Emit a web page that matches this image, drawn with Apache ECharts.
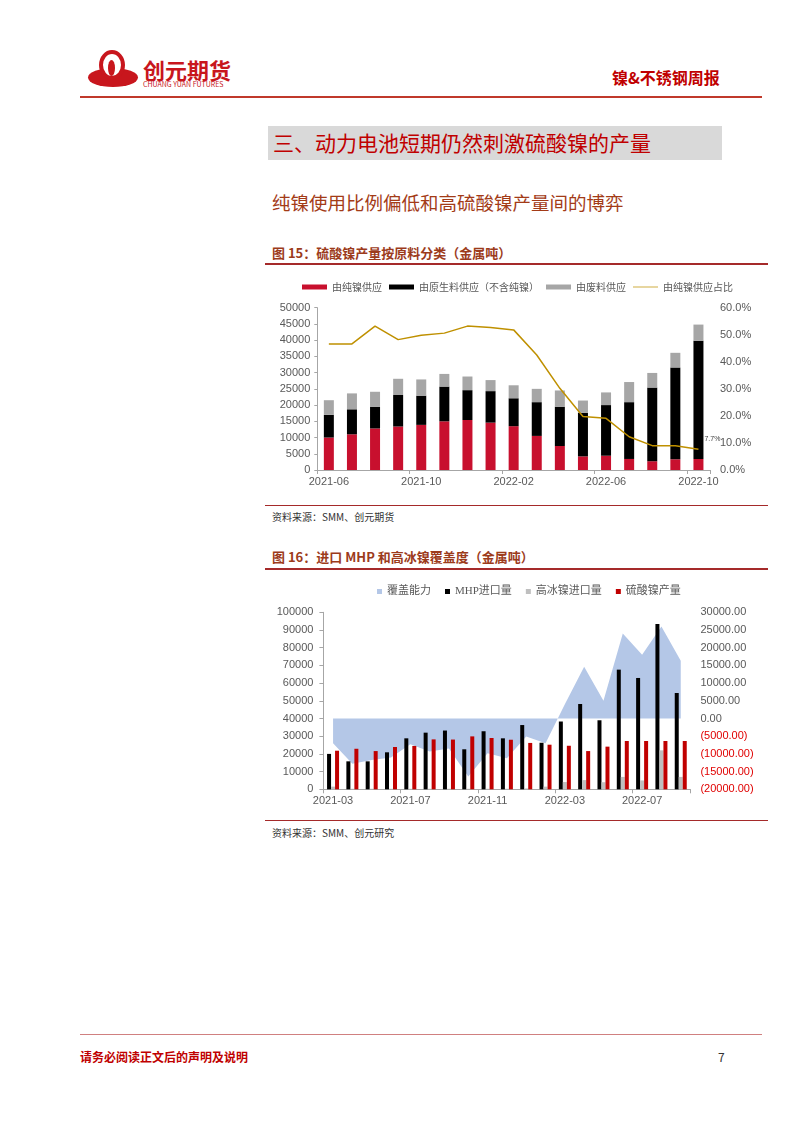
<!DOCTYPE html>
<html>
<head>
<meta charset="utf-8">
<script src="https://cdn.jsdelivr.net/npm/echarts@6/dist/echarts.min.js"></script>
<style>
  html,body{margin:0;padding:0;background:#fff;}
  #page{position:relative;width:802px;height:1133px;background:#fff;overflow:hidden;font-family:"Noto Sans CJK SC","Noto Sans",sans-serif;}
  .t{position:absolute;white-space:nowrap;}
  .ln{position:absolute;}
  #chart{position:absolute;left:0;top:0;width:802px;height:1133px;}
</style>
</head>
<body>
<div id="page">
  <!-- logo -->
  <div class="ln" style="left:88px;top:68px;width:50px;height:19px;border-radius:50%;background:#c8161d;"></div>
  <div class="ln" style="left:99px;top:50px;width:18px;height:22px;border-radius:50%;border:4px solid #c8161d;background:#fff;"></div>
  <div class="ln" style="left:108px;top:60px;width:7px;height:16px;border-radius:50%;background:#c8161d;"></div>
  <div class="t" style="left:143px;top:57px;font-size:22px;line-height:24px;font-weight:bold;color:#c8161d;">创元期货</div>
  <div class="t" style="left:143px;top:80px;font-size:7px;line-height:8px;color:#c8161d;">CHUANG YUAN FUTURES</div>
  <div class="t" style="left:612px;top:68px;font-size:16px;line-height:18px;font-weight:bold;color:#c00000;">镍&amp;不锈钢周报</div>
  <div class="ln" style="left:80px;top:96px;width:682px;height:1.5px;background:#c0392b;"></div>

  <div class="ln" style="left:268px;top:126px;width:454px;height:34px;background:#d9d9d9;"></div>
  <div class="t" style="left:273px;top:130px;font-size:21px;line-height:24px;color:#c00000;">三、动力电池短期仍然刺激硫酸镍的产量</div>
  <div class="t" style="left:272px;top:191px;font-size:18.5px;line-height:22px;color:#a33b17;">纯镍使用比例偏低和高硫酸镍产量间的博弈</div>

  <div class="t" style="left:272px;top:245px;font-size:13px;line-height:16px;font-weight:bold;color:#9c3b1b;">图 15：硫酸镍产量按原料分类（金属吨）</div>
  <div class="ln" style="left:265px;top:263px;width:503px;height:1.5px;background:#a52a2a;"></div>
  <div class="ln" style="left:265px;top:505px;width:503px;height:1px;background:#a52a2a;"></div>
  <div class="t" style="left:272px;top:510px;font-size:10px;line-height:13px;color:#333;">资料来源：SMM、创元期货</div>

  <div class="t" style="left:272px;top:549px;font-size:13px;line-height:16px;font-weight:bold;color:#9c3b1b;">图 16：进口 MHP 和高冰镍覆盖度（金属吨）</div>
  <div class="ln" style="left:265px;top:568px;width:503px;height:1.5px;background:#a52a2a;"></div>
  <div class="ln" style="left:265px;top:820px;width:503px;height:1px;background:#a52a2a;"></div>
  <div class="t" style="left:272px;top:826px;font-size:10px;line-height:13px;color:#333;">资料来源：SMM、创元研究</div>

  <div class="ln" style="left:80px;top:1034px;width:682px;height:1px;background:#d08080;"></div>
  <div class="t" style="left:80px;top:1050px;font-size:12px;line-height:14px;font-weight:bold;color:#c00000;">请务必阅读正文后的声明及说明</div>
  <div class="t" style="left:718px;top:1050px;font-size:12px;line-height:14px;color:#333;">7</div>

  <div id="chart"></div>
</div>
<script>
// ---- Chart 15 data ----
var months1 = ['2021-06','2021-07','2021-08','2021-09','2021-10','2021-11','2021-12','2022-01','2022-02','2022-03','2022-04','2022-05','2022-06','2022-07','2022-08','2022-09','2022-10'];
var pureNi   = [10000,11000,12800,13400,13900,15000,15400,14600,13500,10500,7400,4200,4400,3400,2700,3300,3400];
var rawMat   = [7000,7700,6700,9700,9000,10700,9200,9700,8600,10400,12100,13400,15600,17500,22700,28300,36400];
var scrap    = [4500,4900,4600,5000,5000,3900,4200,3400,4000,4100,5000,3800,3900,6200,4500,4500,5000];
var pureShare = [46.6,46.6,53.2,48.2,49.8,50.6,53.2,52.7,51.8,42.5,30.2,19.8,19.1,12.3,9.0,9.0,7.7];

// ---- Chart 16 data ----
var months2 = ['2021-03','2021-04','2021-05','2021-06','2021-07','2021-08','2021-09','2021-10','2021-11','2021-12','2022-01','2022-02','2022-03','2022-04','2022-05','2022-06','2022-07','2022-08','2022-09'];
var coverage = [-7000,-12800,-11700,-11000,-7300,-9300,-8500,-16400,-9800,-11200,-5100,-7000,4000,14600,5000,24000,18000,26000,16300];
var mhpImport = [20000,15800,15800,20900,28800,32000,33200,22600,32800,28800,36300,26300,38300,48200,39000,67600,62900,93400,54400];
var hniImport = [1500,300,300,300,300,300,300,300,300,300,500,1500,4100,5200,4000,7000,5000,22000,7000];
var niso4Output = [21800,22900,21600,23900,24500,28200,28100,29900,29000,28000,26200,25200,24600,21600,24100,27300,27300,27300,27300];

var axisTxt = {color:'#595959', fontSize:11, fontFamily:'Arial, "Liberation Sans", sans-serif'};
var axisLineGray = {show:true, lineStyle:{color:'#a6a6a6', width:1}};
var plain = function(v){ return String(v); };

var chart = echarts.init(document.getElementById('chart'), null, {renderer:'canvas'});
chart.setOption({
  backgroundColor:'transparent',
  animation:false,
  legend:[
    {
      left:297, top:277, itemWidth:25, itemHeight:5, itemGap:7,
      textStyle:{color:'#595959', fontSize:10, fontFamily:'"Noto Sans CJK SC", sans-serif'},
      data:[
        {name:'由纯镍供应', icon:'rect'},
        {name:'由原生料供应（不含纯镍）', icon:'rect'},
        {name:'由废料供应', icon:'rect'},
        {name:'由纯镍供应占比', icon:'path://M0,0L0,0M0,10L0,10M0,3.5L100,3.5L100,6.5L0,6.5Z'}
      ]
    },
    {
      left:372, top:581, itemWidth:5, itemHeight:5, itemGap:14, icon:'rect',
      textStyle:{color:'#595959', fontSize:11, fontFamily:'"Liberation Serif", "Noto Sans CJK SC", serif'},
      data:['覆盖能力','MHP进口量','高冰镍进口量','硫酸镍产量']
    }
  ],
  grid:[
    {left:317.3, top:307.7, width:392.7, height:162.3},
    {left:323.4, top:612.3, width:367, height:177}
  ],
  xAxis:[
    {type:'category', gridIndex:0, data:months1, axisLine:axisLineGray,
     axisTick:{show:true, interval:3, length:4, lineStyle:{color:'#a6a6a6'}},
     axisLabel:Object.assign({interval:3, margin:6}, axisTxt)},
    {type:'category', gridIndex:1, data:months2, axisLine:axisLineGray,
     axisTick:{show:true, interval:3, length:4, lineStyle:{color:'#a6a6a6'}},
     axisLabel:Object.assign({interval:3, margin:6}, axisTxt)}
  ],
  yAxis:[
    {type:'value', gridIndex:0, min:0, max:50000, interval:5000, axisLine:axisLineGray,
     axisTick:{show:true, length:3, lineStyle:{color:'#a6a6a6'}}, splitLine:{show:false},
     axisLabel:Object.assign({margin:7, formatter:plain}, axisTxt)},
    {type:'value', gridIndex:0, position:'right', min:0, max:60, interval:10,
     axisLine:{show:false}, axisTick:{show:false}, splitLine:{show:false},
     axisLabel:Object.assign({margin:10, formatter:function(v){return v.toFixed(1)+'%';}}, axisTxt)},
    {type:'value', gridIndex:1, min:0, max:100000, interval:10000, axisLine:axisLineGray,
     axisTick:{show:true, length:4, lineStyle:{color:'#a6a6a6'}}, splitLine:{show:false},
     axisLabel:Object.assign({margin:10, formatter:plain}, axisTxt)},
    {type:'value', gridIndex:1, position:'right', min:-20000, max:30000, interval:5000,
     axisLine:{show:false}, axisTick:{show:false}, splitLine:{show:false},
     axisLabel:{margin:10, fontSize:11, fontFamily:'Arial, "Liberation Sans", sans-serif',
       formatter:function(v){return v<0 ? '('+Math.abs(v).toFixed(2)+')' : v.toFixed(2);},
       color:function(v){return Number(v)<0 ? '#e00000' : '#595959';}}}
  ],
  series:[
    {name:'由纯镍供应', type:'bar', xAxisIndex:0, yAxisIndex:0, stack:'s1', barWidth:10, data:pureNi, itemStyle:{color:'#c8102e'}},
    {name:'由原生料供应（不含纯镍）', type:'bar', xAxisIndex:0, yAxisIndex:0, stack:'s1', barWidth:10, data:rawMat, itemStyle:{color:'#000000'}},
    {name:'由废料供应', type:'bar', xAxisIndex:0, yAxisIndex:0, stack:'s1', barWidth:10, data:scrap, itemStyle:{color:'#a6a6a6'}},
    {name:'由纯镍供应占比', type:'line', xAxisIndex:0, yAxisIndex:1, data:pureShare, symbol:'none',
     lineStyle:{color:'#bf9000', width:1.5}, itemStyle:{color:'#bf9000'},
     endLabel:{show:true, formatter:function(p){return p.value+'%';}, fontSize:7, color:'#404040', distance:6, offset:[0,-10]}},

    {name:'覆盖能力', type:'line', xAxisIndex:1, yAxisIndex:3, data:coverage, symbol:'none', z:1,
     lineStyle:{width:0, opacity:0, color:'#b4c7e7'}, itemStyle:{color:'#b4c7e7'},
     areaStyle:{color:'#b4c7e7', opacity:1}},
    {name:'MHP进口量', type:'bar', xAxisIndex:1, yAxisIndex:2, barWidth:4, barGap:'0%', data:mhpImport, itemStyle:{color:'#000000'}, z:3},
    {name:'高冰镍进口量', type:'bar', xAxisIndex:1, yAxisIndex:2, barWidth:4, barGap:'0%', data:hniImport, itemStyle:{color:'#bfbfbf'}, z:3},
    {name:'硫酸镍产量', type:'bar', xAxisIndex:1, yAxisIndex:2, barWidth:4, barGap:'0%', data:niso4Output, itemStyle:{color:'#c00000'}, z:3}
  ]
});
</script>
</body>
</html>
